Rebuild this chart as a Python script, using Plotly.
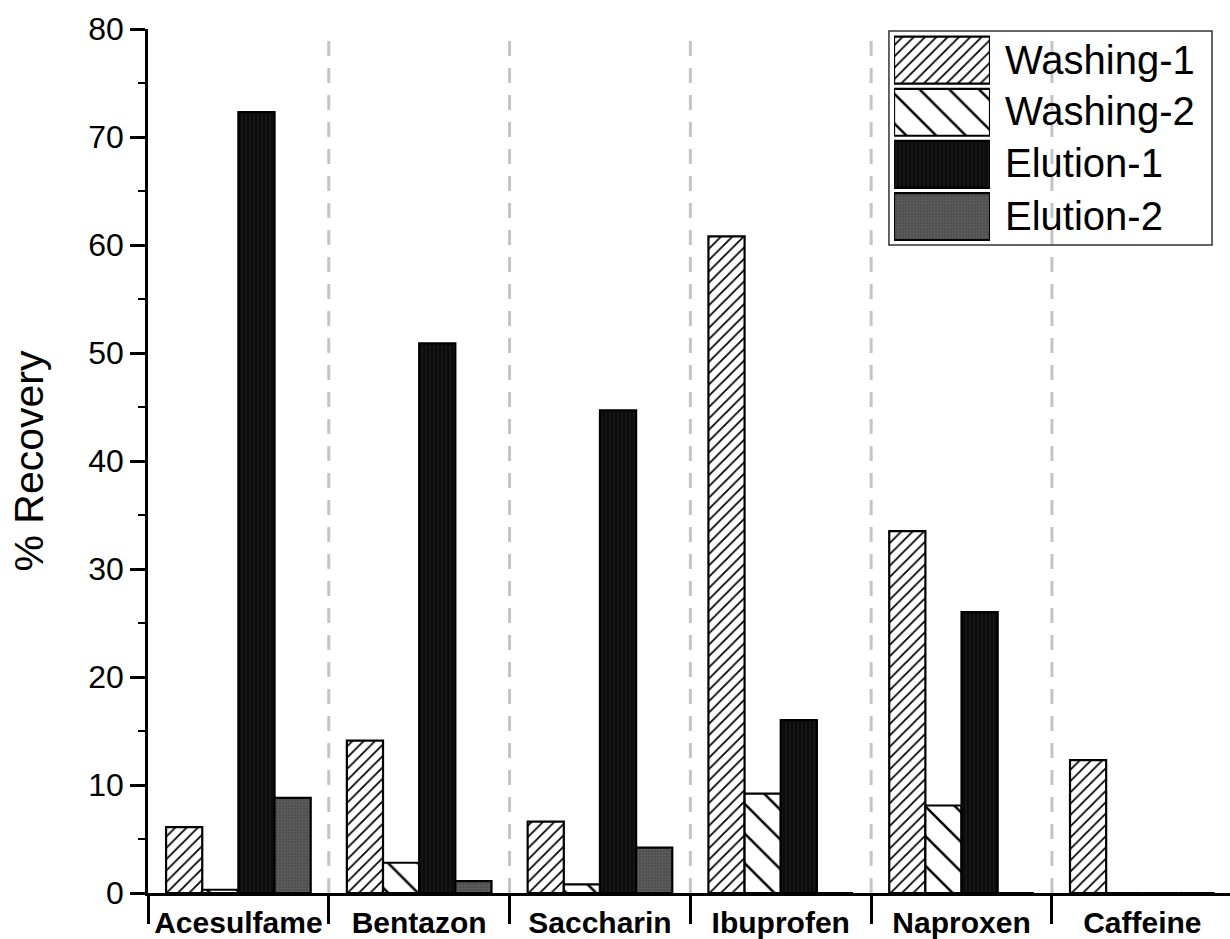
import plotly.graph_objects as go

# Recovery (%) for each compound in the four SPE fractions
compounds = ["Acesulfame", "Bentazon", "Saccharin", "Ibuprofen", "Naproxen", "Caffeine"]
series_names = ["Washing-1", "Washing-2", "Elution-1", "Elution-2"]
washing_1 = [6.1, 14.1, 6.6, 60.8, 33.5, 12.3]
washing_2 = [0.3, 2.8, 0.8, 9.2, 8.1, 0.0]
elution_1 = [72.3, 50.9, 44.7, 16.0, 26.0, 0.0]
elution_2 = [8.8, 1.1, 4.2, 0.0, 0.0, 0.0]
y_ticks = [0, 10, 20, 30, 40, 50, 60, 70, 80]

FONT = "Arial, Liberation Sans, sans-serif"
OUTLINE = dict(color="#000000", width=2.2)

styles = {
    "Washing-1": dict(color="white",
                      pattern=dict(shape="/", size=8, solidity=0.22, fgcolor="#000000",
                                   bgcolor="white", fgopacity=1)),
    "Washing-2": dict(color="white",
                      pattern=dict(shape="\\", size=21, solidity=0.12, fgcolor="#000000",
                                   bgcolor="white", fgopacity=1)),
    "Elution-1": dict(color="#0e0e0e",
                      pattern=dict(shape="|", size=4, solidity=0.3, fgcolor="#2a2a2a", bgcolor="#0b0b0b")),
    "Elution-2": dict(color="#555555",
                      pattern=dict(shape=".", size=3, solidity=0.35, fgcolor="#7a7a7a", bgcolor="#4e4e4e")),
}
values = {"Washing-1": washing_1, "Washing-2": washing_2,
          "Elution-1": elution_1, "Elution-2": elution_2}

fig = go.Figure()
for name in series_names:
    st = styles[name]
    fig.add_trace(go.Bar(
        x=compounds, y=values[name], name=name, showlegend=False,
        marker=dict(color=st["color"], pattern=st["pattern"], line=OUTLINE),
    ))

# Legend swatches drawn as bars on a small inset axis
for name in series_names:
    st = styles[name]
    fig.add_trace(go.Bar(
        x=[1], y=[name], orientation="h", xaxis="x2", yaxis="y2",
        width=0.9, offset=-0.45, showlegend=False, hoverinfo="skip",
        marker=dict(color=st["color"], pattern=st["pattern"], line=OUTLINE),
    ))

# Dashed separators between compound groups
for i in range(len(compounds) - 1):
    fig.add_shape(type="line", xref="x", yref="y", x0=i + 0.5, x1=i + 0.5, y0=0, y1=80,
                  line=dict(color="#c4c4c4", width=3, dash="15px,12px"), layer="below")

# Legend frame
fig.add_shape(type="rect", xref="paper", yref="paper", x0=0.6848, x1=0.9834, y0=0.750, y1=0.9977,
              line=dict(color="#333333", width=1.5), fillcolor="rgba(0,0,0,0)")
legend_y = [0.9645, 0.9049, 0.8446, 0.7836]
for name, yy in zip(series_names, legend_y):
    fig.add_annotation(xref="paper", yref="paper", x=0.7902, y=yy, text=name, showarrow=False,
                       xanchor="left", yanchor="middle", font=dict(family=FONT, size=40, color="black"))

fig.update_layout(
    width=1230, height=939,
    margin=dict(l=148, r=0, t=29, b=46),
    paper_bgcolor="white", plot_bgcolor="white",
    barmode="group", bargap=0.2, bargroupgap=0.0,
    font=dict(family=FONT, color="black"),
    xaxis=dict(
        type="category", range=[-0.5, 5.485], tickson="boundaries",
        ticks="outside", ticklen=28, tickwidth=2.5, tickcolor="black",
        showline=True, linecolor="black", linewidth=2.5, showgrid=False, zeroline=False,
        tickfont=dict(family=FONT, size=30, color="black", weight="bold"),
        ticklabelstandoff=1,
    ),
    yaxis=dict(
        range=[0, 80], tickvals=y_ticks, ticks="outside", ticklen=15, tickwidth=2.5,
        tickcolor="black", showline=True, linecolor="black", linewidth=2.5,
        showgrid=False, zeroline=False,
        tickfont=dict(family=FONT, size=32, color="black"),
        minor=dict(dtick=5, ticks="outside", ticklen=7, tickwidth=2, tickcolor="black", showgrid=False),
        title=dict(text="% Recovery", font=dict(family=FONT, size=41, color="black"), standoff=32),
    ),
    xaxis2=dict(domain=[0.6895, 0.7782], range=[0, 1], visible=False, anchor="y2", fixedrange=True),
    yaxis2=dict(domain=[0.7528, 0.9941], type="category", categoryorder="array",
                categoryarray=series_names[::-1], range=[-0.5, 3.5], visible=False,
                anchor="x2", fixedrange=True),
)

fig.write_html("out.html")
